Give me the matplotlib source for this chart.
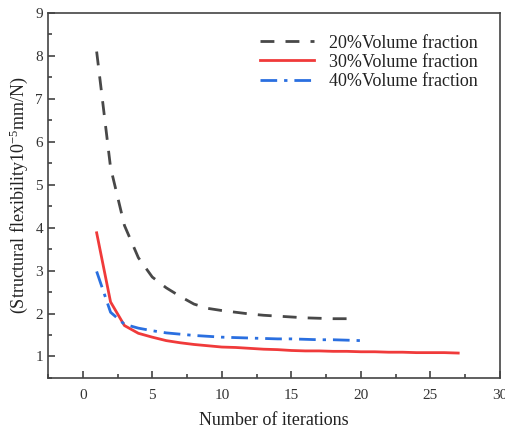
import matplotlib
matplotlib.use("Agg")
import matplotlib.pyplot as plt
from matplotlib.ticker import MultipleLocator

plt.rcParams['font.family'] = ['Liberation Serif', 'DejaVu Serif']
plt.rcParams['mathtext.fontset'] = 'custom'
plt.rcParams['mathtext.rm'] = 'Liberation Serif'
plt.rcParams['mathtext.it'] = 'Liberation Serif:italic'

# Data
iter20 = list(range(1, 20))
vol20 = [8.1, 5.4, 4.05, 3.3, 2.85, 2.6, 2.4, 2.22, 2.12, 2.07, 2.03, 1.99,
         1.96, 1.94, 1.92, 1.90, 1.89, 1.88, 1.88]
iter30 = list(range(1, 28))
vol30 = [3.88, 2.27, 1.72, 1.54, 1.45, 1.37, 1.32, 1.28, 1.25, 1.22, 1.21, 1.19,
         1.17, 1.16, 1.14, 1.13, 1.13, 1.12, 1.12, 1.11, 1.11, 1.10, 1.10, 1.09,
         1.09, 1.09, 1.08]
iter40 = list(range(1, 21))
vol40 = [2.98, 2.03, 1.75, 1.66, 1.60, 1.55, 1.52, 1.49, 1.47, 1.45, 1.44, 1.43,
         1.42, 1.41, 1.41, 1.40, 1.39, 1.39, 1.38, 1.37]
labels = ['20%Volume fraction', '30%Volume fraction', '40%Volume fraction']

fig = plt.figure(figsize=(5.05, 4.30), dpi=100)
ax = fig.add_axes([0.095, 0.121, 0.895, 0.849])

ax.plot(iter20, vol20, color='#484848', lw=2.0, ls=(0, (5, 4)), label=labels[0])
ax.plot(iter30, vol30, color='#f03a3a', lw=2.0, ls='-', label=labels[1])
ax.plot(iter40, vol40, color='#2a6fe0', lw=2.0, ls=(0, (6, 2.5, 1.2, 2.5)), label=labels[2])

ax.set_xlim(-2.5, 30)
ax.set_ylim(0.5, 9)
ax.xaxis.set_major_locator(MultipleLocator(5))
ax.xaxis.set_minor_locator(MultipleLocator(2.5))
ax.yaxis.set_major_locator(MultipleLocator(1))
ax.yaxis.set_minor_locator(MultipleLocator(0.5))
ax.tick_params(which='both', direction='in', top=False, right=False,
               labelsize=11, colors='#333333', width=1.1)
ax.tick_params(which='major', length=5)
ax.tick_params(which='minor', length=3)
ax.tick_params(axis='x', pad=8)
for s in ax.spines.values():
    s.set_linewidth(1.2)
    s.set_color('#444444')

ax.set_xlabel('Number of iterations', fontsize=13, color='#222222', labelpad=7)
ax.set_ylabel(r'(Structural flexibility10$^{-5}$mm/N)', fontsize=13, color='#222222', labelpad=4)

leg = ax.legend(loc='upper right', frameon=False, fontsize=13, handlelength=3.0,
                labelspacing=0.12, borderaxespad=0.6, bbox_to_anchor=(0.99, 0.99))
for t in leg.get_texts():
    t.set_color('#222222')

fig.savefig('out.png', dpi=100)
